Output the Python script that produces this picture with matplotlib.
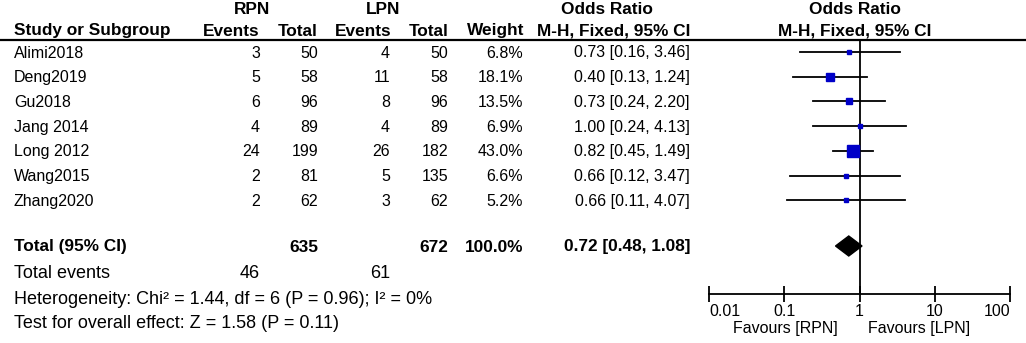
import numpy as np
import matplotlib
matplotlib.use("Agg")
import matplotlib.pyplot as plt

studies = ["Alimi2018", "Deng2019", "Gu2018", "Jang 2014", "Long 2012", "Wang2015", "Zhang2020"]
rpn_events = [3, 5, 6, 4, 24, 2, 2]
rpn_total = [50, 58, 96, 89, 199, 81, 62]
lpn_events = [4, 11, 8, 4, 26, 5, 3]
lpn_total = [50, 58, 96, 89, 182, 135, 62]
weight = [6.8, 18.1, 13.5, 6.9, 43.0, 6.6, 5.2]
odds = [0.73, 0.40, 0.73, 1.00, 0.82, 0.66, 0.66]
ci_low = [0.16, 0.13, 0.24, 0.24, 0.45, 0.12, 0.11]
ci_high = [3.46, 1.24, 2.20, 4.13, 1.49, 3.47, 4.07]

total_or = 0.72
total_low = 0.48
total_high = 1.08
total_n = [635, 672]
total_ev = [46, 61]
het_text = "Heterogeneity: Chi\u00b2 = 1.44, df = 6 (P = 0.96); I\u00b2 = 0%"
test_text = "Test for overall effect: Z = 1.58 (P = 0.11)"
ticks = [0.01, 0.1, 1, 10, 100]
tick_labels = ["0.01", "0.1", "1", "10", "100"]

W, H = 1026, 343
plt.rcParams["font.family"] = ["Liberation Sans", "DejaVu Sans"]
fs = 11.5    # table body
fb = 12.4    # bold header / total row
fn = 13.0    # bottom summary lines

fig = plt.figure(figsize=(W / 100, H / 100), dpi=100)
tab = fig.add_axes([0, 0, 1, 1])
tab.set_xlim(0, W)
tab.set_ylim(H, 0)
tab.axis("off")

row_y = [53 + 24.7 * i for i in range(len(studies))]

# header
top_y = 9
tab.text(252, top_y, "RPN", ha="center", va="center", fontsize=fb, weight="bold")
tab.text(383, top_y, "LPN", ha="center", va="center", fontsize=fb, weight="bold")
tab.text(607, top_y, "Odds Ratio", ha="center", va="center", fontsize=fb, weight="bold")
tab.text(855, top_y, "Odds Ratio", ha="center", va="center", fontsize=fb, weight="bold")
hy = 31
tab.text(14, hy, "Study or Subgroup", ha="left", va="center", fontsize=fb, weight="bold")
tab.text(260, hy, "Events", ha="right", va="center", fontsize=fb, weight="bold")
tab.text(318, hy, "Total", ha="right", va="center", fontsize=fb, weight="bold")
tab.text(391, hy, "Events", ha="right", va="center", fontsize=fb, weight="bold")
tab.text(449, hy, "Total", ha="right", va="center", fontsize=fb, weight="bold")
tab.text(524, hy, "Weight", ha="right", va="center", fontsize=fb, weight="bold")
tab.text(690, hy, "M-H, Fixed, 95% CI", ha="right", va="center", fontsize=fb, weight="bold")
tab.text(855, hy, "M-H, Fixed, 95% CI", ha="center", va="center", fontsize=fb, weight="bold")
tab.plot([0, W], [40, 40], color="black", lw=1.6)

for i, y in enumerate(row_y):
    tab.text(14, y, studies[i], ha="left", va="center", fontsize=fs)
    tab.text(260, y, str(rpn_events[i]), ha="right", va="center", fontsize=fs)
    tab.text(318, y, str(rpn_total[i]), ha="right", va="center", fontsize=fs)
    tab.text(390, y, str(lpn_events[i]), ha="right", va="center", fontsize=fs)
    tab.text(448, y, str(lpn_total[i]), ha="right", va="center", fontsize=fs)
    tab.text(523, y, "%.1f%%" % weight[i], ha="right", va="center", fontsize=fs)
    tab.text(690, y, "%.2f [%.2f, %.2f]" % (odds[i], ci_low[i], ci_high[i]),
             ha="right", va="center", fontsize=fs)

ty = 246
tab.text(14, ty + 1, "Total (95% CI)", ha="left", va="center", fontsize=fb, weight="bold")
tab.text(318, ty + 1, str(total_n[0]), ha="right", va="center", fontsize=fb, weight="bold")
tab.text(448, ty + 1, str(total_n[1]), ha="right", va="center", fontsize=fb, weight="bold")
tab.text(523, ty + 1, "100.0%", ha="right", va="center", fontsize=fb, weight="bold")
tab.text(690, ty + 1, "%.2f [%.2f, %.2f]" % (total_or, total_low, total_high),
         ha="right", va="center", fontsize=fb, weight="bold")
tab.text(14, 274, "Total events", ha="left", va="center", fontsize=fn)
tab.text(260, 274, str(total_ev[0]), ha="right", va="center", fontsize=fn)
tab.text(390, 274, str(total_ev[1]), ha="right", va="center", fontsize=fn)
tab.text(14, 299, het_text, ha="left", va="center", fontsize=fn)
tab.text(14, 324, test_text, ha="left", va="center", fontsize=fn)

# forest panel: x spans 0.01..100, y in pixel rows from header line to axis line
x0, x1 = 709, 1010
y_top, y_bot = 40, 294
ax = fig.add_axes([x0 / W, 1 - y_bot / H, (x1 - x0) / W, (y_bot - y_top) / H])
ax.set_xscale("log")
ax.set_xlim(0.01, 100)
ax.set_ylim(y_bot, y_top)
ax.patch.set_alpha(0)
for s in ["top", "right", "left"]:
    ax.spines[s].set_visible(False)
ax.spines["bottom"].set_linewidth(1.3)
ax.set_yticks([])
ax.set_xticks(ticks)
ax.set_xticklabels(tick_labels, fontsize=fs)
ax.minorticks_off()
ax.tick_params(axis="x", direction="inout", length=11, width=1.3, pad=2)
# end labels sit inside the axis span
xt = ax.get_xticklabels()
xt[0].set_ha("left")
xt[-1].set_ha("right")
ax.axvline(1, color="black", lw=1.3)

for i, y in enumerate(row_y):
    ax.plot([ci_low[i], ci_high[i]], [y - 1, y - 1], color="black", lw=1.3)
    side = 1.9 * np.sqrt(weight[i])
    ax.plot(odds[i], y - 1, marker="s", color="#0000c8", markersize=side * 0.72, mec="#0000c8")

ax.fill([total_low, total_or, total_high, total_or], [ty, ty - 10, ty, ty + 10], color="black")

fig.text(838 / W, 1 - 328 / H, "Favours [RPN]", ha="right", va="center", fontsize=fs)
fig.text(868 / W, 1 - 328 / H, "Favours [LPN]", ha="left", va="center", fontsize=fs)

fig.savefig("out.png", dpi=100)
